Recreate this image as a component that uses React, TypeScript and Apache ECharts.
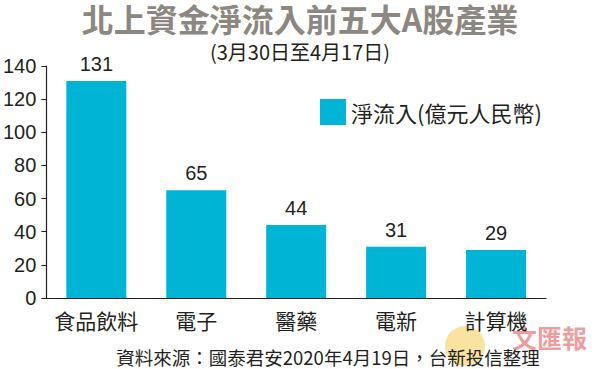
import React, { useEffect, useRef } from "react";
import * as echarts from "echarts";

const categories = ["食品飲料", "電子", "醫藥", "電新", "計算機"];
const netInflow = [131, 65, 44, 31, 29];
const yTicks = [0, 20, 40, 60, 80, 100, 120, 140];
const seriesName = "淨流入(億元人民幣)";
const titleText = "北上資金淨流入前五大A股產業";
const subtitleText = "(3月30日至4月17日)";
const sourceText = "資料來源：國泰君安2020年4月19日，台新投信整理";

const NUM_FONT = "'Liberation Sans Narrow', 'Liberation Sans', Arial, sans-serif";
const CJK_FONT = "'Noto Sans CJK TC', 'Noto Sans', sans-serif";

export default function App() {
  const ref = useRef<HTMLDivElement>(null);
  useEffect(() => {
    if (!ref.current) return;
    const chart = echarts.init(ref.current, undefined, { renderer: "svg" });
    chart.setOption({
      animation: false,
      backgroundColor: "#ffffff",
      title: [
        {
          text: titleText,
          left: "center",
          top: 2,
          padding: 0,
          textStyle: { fontFamily: CJK_FONT, fontSize: 32, fontWeight: "bold", color: "#8d8781", lineHeight: 32 },
        },
        {
          text: subtitleText,
          left: "center",
          top: 41,
          padding: 0,
          textStyle: { fontFamily: CJK_FONT, fontSize: 20, fontWeight: "normal", color: "#231f20", lineHeight: 20 },
        },
      ],
      legend: {
        data: [seriesName],
        left: 320,
        top: 99,
        padding: 0,
        itemWidth: 26,
        itemHeight: 26,
        itemGap: 8,
        icon: "rect",
        textStyle: { fontFamily: CJK_FONT, fontSize: 22, color: "#231f20" },
      },
      grid: { left: 46, right: 54, top: 66, bottom: 71, containLabel: false },
      xAxis: {
        type: "category",
        data: categories,
        axisLine: { show: true, lineStyle: { color: "#231f20", width: 1.2 } },
        axisTick: { show: false },
        axisLabel: { interval: 0, fontFamily: CJK_FONT, fontSize: 21, color: "#231f20", margin: 11 },
      },
      yAxis: {
        type: "value",
        min: yTicks[0],
        max: yTicks[yTicks.length - 1],
        interval: 20,
        splitLine: { show: false },
        axisLine: { show: true, lineStyle: { color: "#231f20", width: 1.2 } },
        axisTick: { show: true, length: 5, lineStyle: { color: "#231f20" } },
        axisLabel: { fontFamily: NUM_FONT, fontSize: 20, color: "#231f20", margin: 10 },
      },
      series: [
        {
          name: seriesName,
          type: "bar",
          data: netInflow,
          barWidth: 60,
          itemStyle: { color: "#00b4d6" },
          label: {
            show: true,
            position: "top",
            distance: 7,
            fontFamily: NUM_FONT,
            fontSize: 20,
            color: "#231f20",
          },
        },
      ],
      graphic: [
        {
          type: "circle",
          shape: { cx: 465, cy: 346, r: 20 },
          style: { fill: "#f5c842", opacity: 0.5 },
          silent: true,
        },
        {
          type: "text",
          x: 512,
          y: 324,
          style: {
            text: "文匯報",
            font: "bold 25px 'Noto Sans CJK TC', serif",
            fill: "#e35b5b",
            opacity: 0.6,
          },
          silent: true,
        },
        {
          type: "text",
          x: 328,
          y: 357,
          style: {
            text: sourceText,
            font: "18.5px 'Noto Sans CJK TC', sans-serif",
            fill: "#231f20",
            align: "center",
            verticalAlign: "middle",
          },
          silent: true,
        },
      ],
    });
    return () => chart.dispose();
  }, []);
  return (
    <div
      ref={ref}
      style={{ position: "fixed", left: 0, top: 0, width: 600, height: 369, background: "#fff" }}
    />
  );
}
